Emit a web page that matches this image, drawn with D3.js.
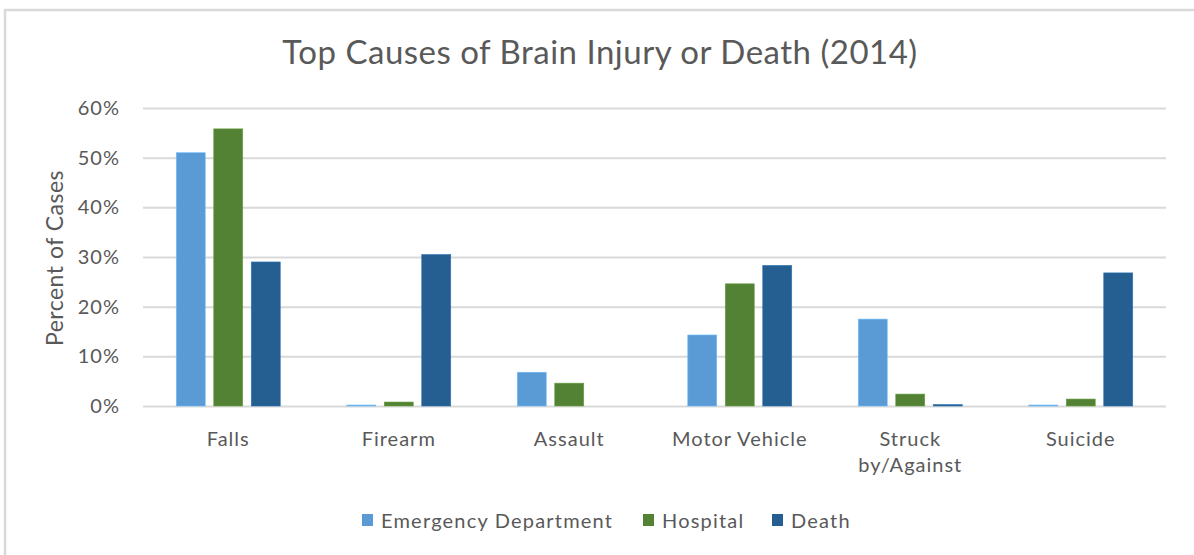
<!DOCTYPE html>
<html><head><meta charset="utf-8">
<script src="https://cdn.jsdelivr.net/npm/d3@7"></script>
<style>
html,body{margin:0;padding:0;background:#fff;}
svg{display:block;font-family:Lato,"Open Sans",sans-serif;}
</style></head>
<body><svg id="c" width="1194" height="555"></svg>
<script>
const categories = ["Falls","Firearm","Assault","Motor Vehicle","Struck by/Against","Suicide"];
const categoryLines = [["Falls"],["Firearm"],["Assault"],["Motor Vehicle"],["Struck","by/Against"],["Suicide"]];
const seriesNames = ["Emergency Department","Hospital","Death"];
const emergencyDept = [51.0, 0.2, 6.8, 14.3, 17.5, 0.2];
const hospital = [55.8, 0.8, 4.6, 24.6, 2.4, 1.4];
const death = [29.0, 30.5, 0.0, 28.3, 0.3, 26.8];
const yTicks = [0,10,20,30,40,50,60];
const colors = ["#5B9BD5","#548235","#255E91"];

const svg = d3.select("#c");
const W = 1194, H = 555;
const m = {left:143, right:28, top:108, bottom:149};
const textColor = "#595959";

// frame
svg.append("line").attr("x1",4).attr("x2",W).attr("y1",10).attr("y2",10).attr("stroke","#d9d9d9").attr("stroke-width",2.5);
svg.append("line").attr("x1",5).attr("x2",5).attr("y1",9).attr("y2",H).attr("stroke","#d9d9d9").attr("stroke-width",2.5);

const x = d3.scaleBand().domain(categories).range([m.left, W-m.right]).paddingInner(0).paddingOuter(0);
const y = d3.scaleLinear().domain([0,60]).range([H-m.bottom, m.top]);
const xs = d3.scaleBand().domain(seriesNames).range([0, x.bandwidth()]).paddingInner(0.227).paddingOuter(0.887);

// grid
const gy = svg.append("g").attr("transform",`translate(${m.left},0)`)
  .call(d3.axisLeft(y).tickValues(yTicks).tickSize(-(W-m.left-m.right)).tickFormat(d=>d+"%").tickPadding(23));
gy.select(".domain").remove();
gy.selectAll(".tick line").attr("stroke","#d9d9d9").attr("stroke-width",2);
gy.selectAll(".tick text").attr("fill",textColor).style("font-size","20px").style("letter-spacing","1px").style("font-family","Lato,sans-serif");

const data = [emergencyDept, hospital, death];
data.forEach((vals, si) => {
  svg.append("g").selectAll("rect").data(vals).join("rect")
    .attr("x",(d,i)=>x(categories[i]) + xs(seriesNames[si]))
    .attr("width", xs.bandwidth())
    .attr("y", d=>y(d))
    .attr("height", d=>y(0)-y(d))
    .attr("fill", colors[si])
    .attr("stroke", d3.color(colors[si]).brighter(0.6))
    .attr("stroke-width",0.6);
});

// x labels
const xl = svg.append("g");
categories.forEach((c,i)=>{
  const t = xl.append("text").attr("x", x(c)+x.bandwidth()/2).attr("y", 446)
    .attr("text-anchor","middle").attr("fill",textColor).style("font-size","20px").style("letter-spacing","1px");
  categoryLines[i].forEach((ln,j)=>{
    t.append("tspan").attr("x", x(c)+x.bandwidth()/2).attr("dy", j===0?0:26).text(ln);
  });
});

// y axis title
svg.append("text").attr("transform",`translate(63,258) rotate(-90)`).attr("text-anchor","middle")
  .attr("fill",textColor).style("font-size","23px").style("letter-spacing","0.5px").text("Percent of Cases");

// title
svg.append("text").attr("x",600).attr("y",64).attr("text-anchor","middle").attr("fill",textColor)
  .style("font-size","33px").style("letter-spacing","0.5px").text("Top Causes of Brain Injury or Death (2014)");

// legend
const legendX = [362, 643, 772];
const lg = svg.append("g");
seriesNames.forEach((s,i)=>{
  lg.append("rect").attr("x",legendX[i]).attr("y",514).attr("width",11).attr("height",12).attr("fill",colors[i]);
  lg.append("text").attr("x",legendX[i]+19).attr("y",528).attr("fill",textColor).style("font-size","20px").style("letter-spacing","1.2px").text(s);
});
</script></body></html>
